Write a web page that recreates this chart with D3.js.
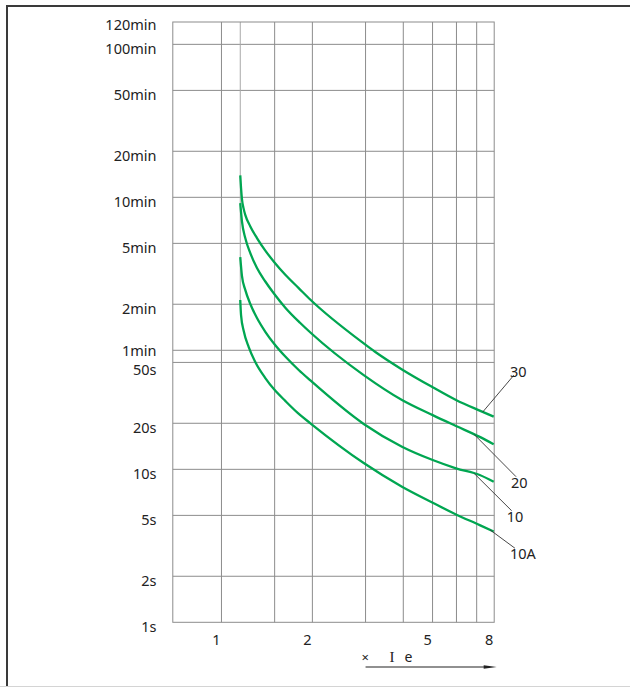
<!DOCTYPE html>
<html>
<head>
<meta charset="utf-8">
<script src="https://cdn.jsdelivr.net/npm/d3@7"></script>
<style>
  body { margin: 0; background: #fff; }
  text { font-family: "Noto Sans", "Open Sans", sans-serif; fill: #222; }
</style>
</head>
<body>
<div class="chart"></div>
<script>
// Multiples of Ie where grid lines are drawn, and the ones that get a label
var xGrid = [1, 1.5, 2, 3, 4, 5, 6, 7];
var xTickLabels = [1, 2, 5, 8];

// Trip time grid (seconds) and labels
var yTickValues = [1, 2, 5, 10, 20, 50, 60, 120, 300, 600, 1200, 3000, 6000];
var yTickLabels = ["1s", "2s", "5s", "10s", "20s", "50s", "1min", "2min", "5min", "10min", "20min", "50min", "100min"];
var yTopLabel = "120min";

// Curve names (trip class)
var curveNames = ["30", "20", "10", "10A"];

// x = multiple of Ie, t = trip time in seconds
var curve30I = [1.154, 1.161, 1.169, 1.183, 1.199, 1.246, 1.311, 1.397, 1.496, 1.627, 1.802, 1.975, 2.958, 3.224, 3.96, 5.006, 5.978, 7.163, 7.97];
var curve30T = [835, 690, 585, 510, 461, 387, 325, 269, 226, 187, 153, 128, 66.6, 58.7, 45.0, 34.4, 28.4, 24.2, 22.1];

var curve20I = [1.154, 1.169, 1.199, 1.246, 1.311, 1.397, 1.496, 1.627, 1.82, 1.97, 2.958, 3.96, 5.006, 5.978, 7.163, 7.97];
var curve20T = [550, 418, 325, 259, 207, 169, 140, 114, 90.8, 78.4, 41.3, 28.4, 22.6, 19.2, 16.3, 14.6];

var curve10I = [1.154, 1.169, 1.199, 1.246, 1.311, 1.397, 1.496, 1.627, 1.802, 1.97, 2.958, 3.96, 5.006, 5.978, 7.163, 7.97];
var curve10T = [244, 184, 149, 120.5, 97.5, 79.3, 66.0, 54.6, 44.6, 38.1, 19.8, 14.05, 11.5, 10.15, 9.18, 8.3];

var curve10AI = [1.154, 1.161, 1.185, 1.231, 1.294, 1.397, 1.496, 1.627, 1.792, 1.97, 2.958, 3.96, 5.006, 5.978, 7.163, 7.97];
var curve10AT = [128, 102, 80.1, 63.0, 50.3, 39.5, 33.2, 28.0, 23.3, 20.0, 11.0, 7.7, 6.05, 5.07, 4.32, 3.92];

// Leader lines: point on the curve and the end near the label (Ie multiple, seconds)
var leaderFromI = [7.33, 6.87, 6.87, 7.75];
var leaderFromT = [23.7, 16.9, 9.39, 4.02];
var leaderToI = [9.30, 9.45, 9.14, 9.37];
var leaderToT = [41.3, 8.95, 5.36, 3.05];

var curveI = [curve30I, curve20I, curve10I, curve10AI];
var curveT = [curve30T, curve20T, curve10T, curve10AT];

var svgWidth = 630;
var svgHeight = 687;

var svg = d3
  .select(".chart")
  .append("svg")
  .attr("width", svgWidth)
  .attr("height", svgHeight);

// Scales (both logarithmic)
var x = d3.scaleLog().domain([0.69, 8]).range([172.8, 494.2]);
var y = d3.scaleLog().domain([1, 8400]).range([622.3, 22]);

var gridColor = "#8c8c8c";
var green = "#00a651";

// Outer frame: dark top and left, light bottom
svg.append("line").attr("x1", 6).attr("x2", 630).attr("y1", 6).attr("y2", 6)
  .attr("stroke", "#3a3a3a").attr("stroke-width", 2);
svg.append("line").attr("x1", 7).attr("x2", 7).attr("y1", 5).attr("y2", 687)
  .attr("stroke", "#3a3a3a").attr("stroke-width", 2);
svg.append("line").attr("x1", 0).attr("x2", 630).attr("y1", 686.5).attr("y2", 686.5)
  .attr("stroke", "#d4d4d4").attr("stroke-width", 1);

var chart = svg.append("g");

// Vertical grid lines
chart.selectAll(".vgrid")
  .data(xGrid)
  .enter()
  .append("line")
  .attr("class", "vgrid")
  .attr("x1", function(d) { return x(d); })
  .attr("x2", function(d) { return x(d); })
  .attr("y1", y.range()[1])
  .attr("y2", y.range()[0])
  .attr("stroke", gridColor)
  .attr("stroke-width", 1);

// Horizontal grid lines
chart.selectAll(".hgrid")
  .data(yTickValues.slice(1))
  .enter()
  .append("line")
  .attr("class", "hgrid")
  .attr("x1", x.range()[0])
  .attr("x2", x.range()[1])
  .attr("y1", function(d) { return y(d); })
  .attr("y2", function(d) { return y(d); })
  .attr("stroke", gridColor)
  .attr("stroke-width", 1);

// Light guide where the curves start, from top down to 2min
chart.append("line")
  .attr("x1", x(curve30I[0]))
  .attr("x2", x(curve30I[0]))
  .attr("y1", y.range()[1])
  .attr("y2", y(120))
  .attr("stroke", "#a8a8a8")
  .attr("stroke-width", 1);

// Plot frame
chart.append("rect")
  .attr("x", x.range()[0])
  .attr("y", y.range()[1])
  .attr("width", x.range()[1] - x.range()[0])
  .attr("height", y.range()[0] - y.range()[1])
  .attr("fill", "none")
  .attr("stroke", gridColor)
  .attr("stroke-width", 1);

// Y labels
chart.selectAll(".ylabel")
  .data(yTickValues)
  .enter()
  .append("text")
  .attr("class", "ylabel")
  .attr("text-anchor", "end")
  .attr("x", 156.5)
  .attr("y", function(d, i) {
    // 1min and 50s are pushed apart so they do not overlap
    if (d === 60) return y(d) + 5.5;
    if (d === 50) return y(d) + 13;
    return y(d) + 9.5;
  })
  .style("font-size", "14.5px")
  .text(function(d, i) { return yTickLabels[i]; });

chart.append("text")
  .attr("text-anchor", "end")
  .attr("x", 156.5)
  .attr("y", y.range()[1] + 8)
  .style("font-size", "14.5px")
  .text(yTopLabel);

// X labels
chart.selectAll(".xlabel")
  .data(xTickLabels)
  .enter()
  .append("text")
  .attr("class", "xlabel")
  .attr("text-anchor", "middle")
  .attr("x", function(d) { return x(d) - 5; })
  .attr("y", 645)
  .style("font-size", "14.5px")
  .text(function(d) { return d; });

// Curves
var line = d3.line()
  .x(function(d) { return x(d[0]); })
  .y(function(d) { return y(d[1]); })
  .curve(d3.curveMonotoneX);

curveNames.forEach(function(name, k) {
  var pts = curveI[k].map(function(v, i) { return [v, curveT[k][i]]; });
  chart.append("path")
    .datum(pts)
    .attr("fill", "none")
    .attr("stroke", green)
    .attr("stroke-width", 2.3)
    .attr("d", line);
});

// Leader lines and curve labels
curveNames.forEach(function(name, k) {
  var x1 = x(leaderFromI[k]), y1 = y(leaderFromT[k]);
  var x2 = x(leaderToI[k]), y2 = y(leaderToT[k]);
  chart.append("line")
    .attr("x1", x1).attr("y1", y1)
    .attr("x2", x2).attr("y2", y2)
    .attr("stroke", "#333")
    .attr("stroke-width", 0.9);
  var up = y2 < y1;
  chart.append("text")
    .attr("x", x2 - (up ? 4 : 5))
    .attr("y", up ? y2 + 2 : y2 + 11)
    .style("font-size", "14.5px")
    .text(name);
});

// Axis title with arrow
var arrowY = 667;
var ax0 = x(3), ax1 = x(8) + 2.5;
chart.append("line")
  .attr("x1", ax0).attr("x2", ax1 - 10)
  .attr("y1", arrowY).attr("y2", arrowY)
  .attr("stroke", "#222").attr("stroke-width", 1.2);
chart.append("path")
  .attr("d", "M" + (ax1 - 13) + "," + (arrowY - 1.8) + "L" + ax1 + "," + arrowY + "L" + (ax1 - 13) + "," + (arrowY + 1.8) + "Z")
  .attr("fill", "#222");

var title = chart.append("text")
  .attr("y", 662)
  .style("font-size", "14px");
title.append("tspan").attr("x", ax0 - 4).style("font-size", "13px").text("×");
title.append("tspan").attr("x", ax0 + 24).style("font-family", "'Liberation Serif', serif").style("font-size", "15px").text("I");
title.append("tspan").attr("x", ax0 + 39).text("e");
</script>
</body>
</html>
